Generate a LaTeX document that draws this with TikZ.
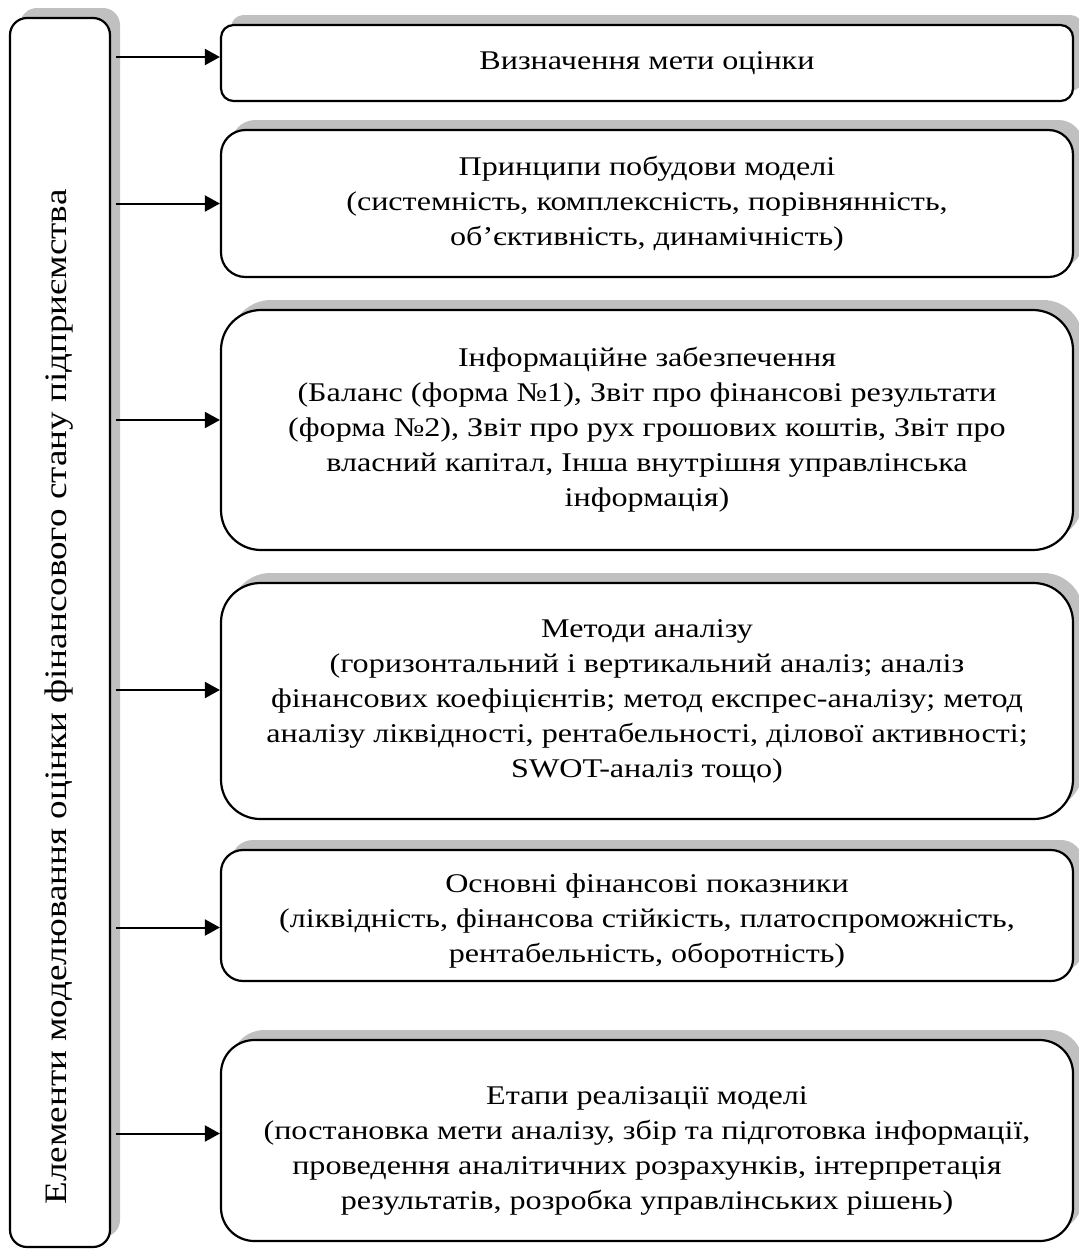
\documentclass[tikz,border=0pt]{standalone}
\usepackage{fontspec}
\setmainfont{Liberation Serif}[FakeStretch=1.19]
\usetikzlibrary{arrows.meta,shadows,calc}

\definecolor{shadowgray}{RGB}{192,192,192}
\newcommand{\toppad}[1]{\rule{0pt}{#1}}
\tikzset{
  elembox/.style={draw, line width=1.1pt, fill=white, inner sep=0pt,
    drop shadow={shadow xshift=5pt, shadow yshift=5pt, fill=shadowgray, opacity=1}},
  itembox/.style={elembox, minimum width=426pt, align=center,
    font=\fontsize{13.5}{17.5}\selectfont},
  linkarrow/.style={line width=1pt, -{Triangle[length=7.5pt,width=8pt]}}
}

\begin{document}
\begin{tikzpicture}[x=0.5pt,y=-0.5pt]
	\useasboundingbox (0,0) rectangle (1078,1249);
	% left column
	\node[elembox, minimum width=50pt, minimum height=614.5pt, rounded corners=8.5pt] (elem) at (60,632.5) {};
	\node[rotate=90, font=\fontsize{15.6}{18}\selectfont] (elemtxt) at (59,697) {Елементи моделювання оцінки фінансового стану підприємства};
	% right column
	\node[itembox, minimum height=38pt, rounded corners=6.3pt] (goal) at (647,63) {Визначення мети оцінки};
	\node[itembox, minimum height=73.5pt, rounded corners=12.2pt] (princ) at (647,203.5) {Принципи побудови моделі\\(системність, комплексність, порівнянність,\\об’єктивність, динамічність)};
	\node[itembox, minimum height=120pt, rounded corners=20pt] (info) at (647,430) {Інформаційне забезпечення\\(Баланс (форма №1), Звіт про фінансові результати\\(форма №2), Звіт про рух грошових коштів, Звіт про\\власний капітал, Інша внутрішня управлінська\\інформація)};
	\node[itembox, minimum height=118pt, rounded corners=19.7pt] (meth) at (647,701) {Методи аналізу\\(горизонтальний і вертикальний аналіз; аналіз\\фінансових коефіцієнтів; метод експрес-аналізу; метод\\аналізу ліквідності, рентабельності, ділової активності;\\SWOT-аналіз тощо)};
	\node[itembox, minimum height=65.5pt, rounded corners=11pt] (indic) at (647,915.5) {\toppad{15pt}Основні фінансові показники\\(ліквідність, фінансова стійкість, платоспроможність,\\рентабельність, оборотність)};
	\node[itembox, minimum height=100.5pt, rounded corners=16.7pt] (stage) at (647,1140.5) {\toppad{19pt}Етапи реалізації моделі\\(постановка мети аналізу, збір та підготовка інформації,\\проведення аналітичних розрахунків, інтерпретація\\результатів, розробка управлінських рішень)};
	% arrows
	\foreach \b/\dy in {goal/-6, princ/0, info/-10, meth/-11, indic/12, stage/-7}
		\draw[linkarrow] ($(elem.east |- \b.west)+(5,\dy)$) -- ($(\b.west)+(0,\dy)$);
\end{tikzpicture}
\end{document}
